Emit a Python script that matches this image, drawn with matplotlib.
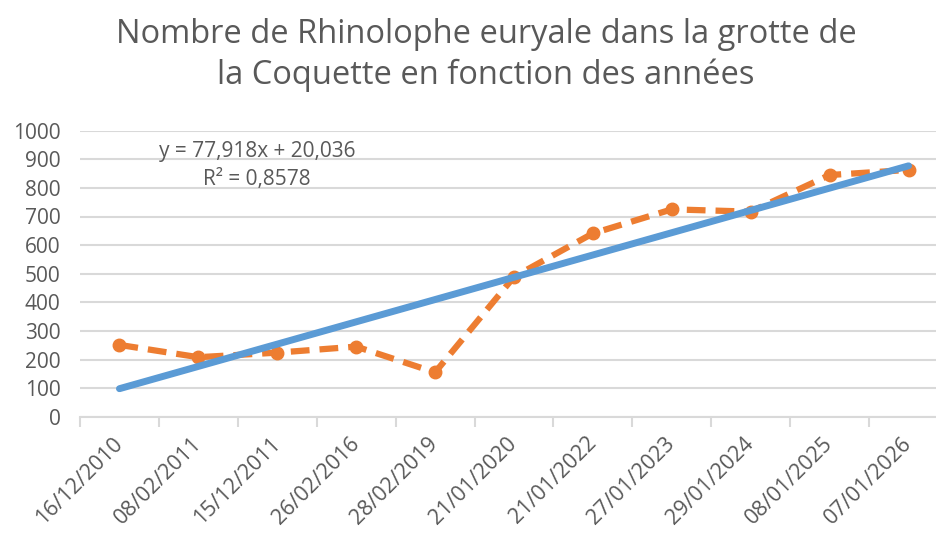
import matplotlib
matplotlib.use("Agg")
import matplotlib.pyplot as plt
import numpy as np

dates = ["16/12/2010", "08/02/2011", "15/12/2011", "26/02/2016", "28/02/2019",
         "21/01/2020", "21/01/2022", "27/01/2023", "29/01/2024", "08/01/2025",
         "07/01/2026"]
counts = [251, 208, 224, 245, 155, 489, 641, 725, 717, 845, 863]
# linear trendline shown by Excel
slope = 77.918
intercept = 20.036
r2 = 0.8578

plt.rcParams['font.family'] = ['Open Sans', 'DejaVu Sans']
grey = '#595959'

fig = plt.figure(figsize=(9.37, 5.33), dpi=100)
ax = fig.add_axes([80 / 937, 1 - 416.7 / 533, 868 / 937, 286 / 533])

x = np.arange(1, len(dates) + 1)
ax.plot(x, counts, color='#ED7D31', lw=4.5, ls=(0, (3, 1.6)), marker='o', ms=9,
        zorder=3)
ax.plot(x, intercept + slope * x, color='#5B9BD5', lw=5, solid_capstyle='round',
        zorder=4)

ax.set_xlim(0.5, len(dates) + 0.5)
ax.set_ylim(0, 1000)
ax.set_yticks(range(0, 1001, 100))
ax.grid(axis='y', color='#D9D9D9', lw=1.5)
ax.set_axisbelow(True)
for s in ['top', 'right', 'left']:
    ax.spines[s].set_visible(False)
ax.spines['bottom'].set_color('#D9D9D9')
ax.spines['bottom'].set_linewidth(1.5)

ax.set_xticks(x)
ax.set_xticklabels(dates, rotation=45, ha='right', va='center',
                   rotation_mode='anchor', color=grey, fontsize=15.5)
ax.set_xticks(np.arange(0.5, len(dates) + 1, 1), minor=True)
ax.tick_params(axis='x', which='major', length=0, pad=17)
ax.tick_params(axis='x', which='minor', length=7, width=1.5, color='#D9D9D9')
ax.tick_params(axis='y', length=0, labelsize=15, labelcolor=grey, pad=14)

ax.text(257 / 937, 1 - 151 / 533, f"y = {slope:.3f}x + {intercept:.3f}".replace('.', ','),
        transform=fig.transFigure, ha='center', va='center', fontsize=15, color=grey)
ax.text(257 / 937, 1 - 180 / 533, f"R² = {r2:.4f}".replace('.', ','),
        transform=fig.transFigure, ha='center', va='center', fontsize=15, color=grey)

fig.text(486 / 937, 1 - 55 / 533,
         "Nombre de Rhinolophe euryale dans la grotte de\nla Coquette en fonction des années",
         ha='center', va='center', fontsize=23.5, color=grey, linespacing=1.33)

fig.savefig("out.png", dpi=100)
